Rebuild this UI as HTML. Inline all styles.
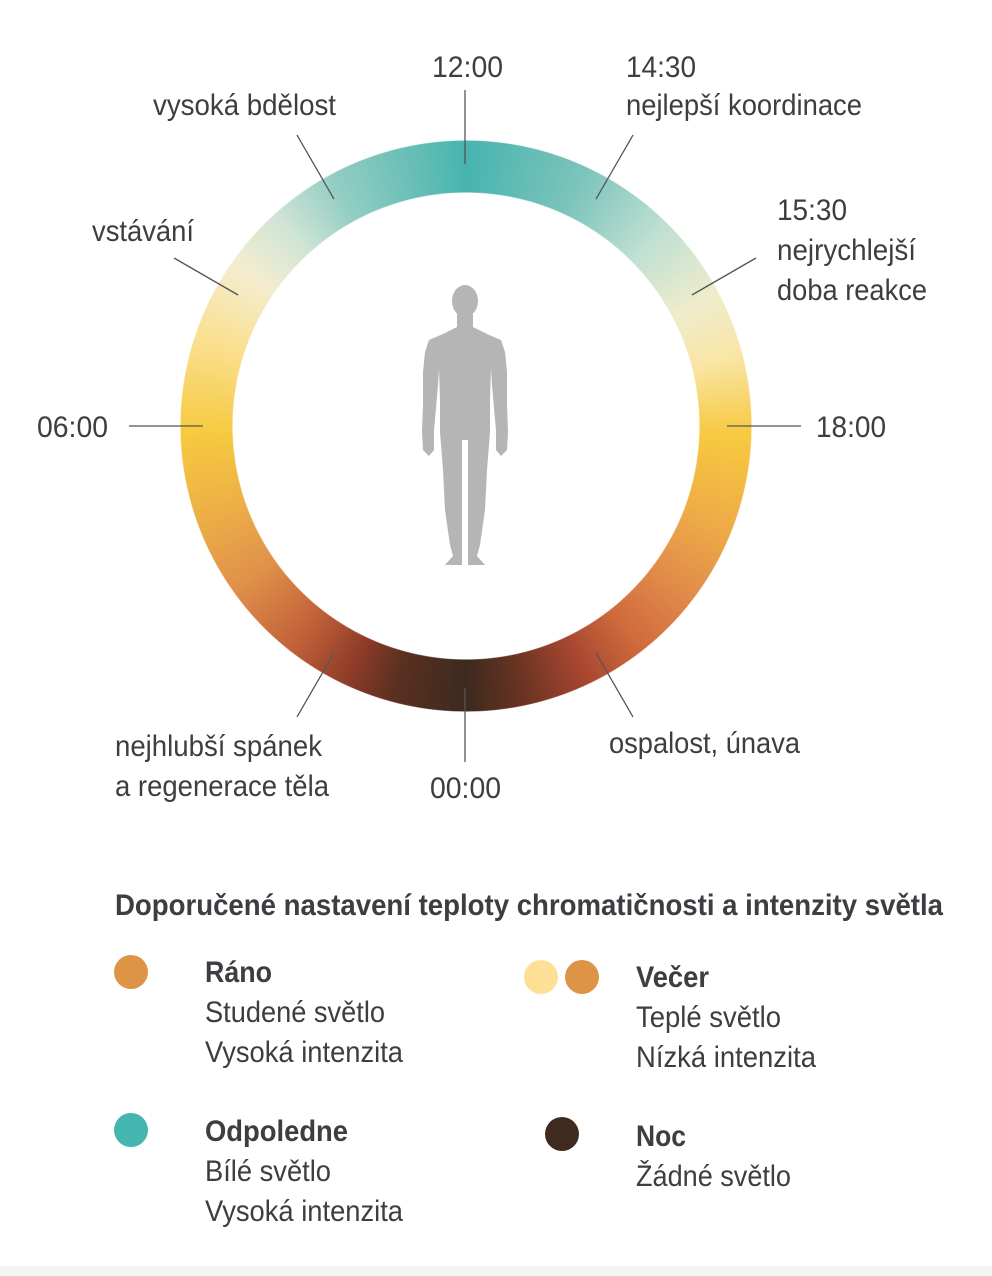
<!DOCTYPE html>
<html><head><meta charset="utf-8"><style>
html,body{margin:0;padding:0;background:#fff;width:992px;height:1276px;overflow:hidden;position:relative;font-family:"Liberation Sans",sans-serif}
#ring{position:absolute;left:180px;top:140px;width:572px;height:572px;border-radius:50%;
background:conic-gradient(from 0deg,#48b4af 0deg,#7cc4bb 25deg,#bfe0d2 45deg,#efeccc 62deg,#f9e6a8 75deg,#f7c940 92deg,#eeaa47 112deg,#e08a4a 128deg,#cf6a3c 142deg,#a64630 155deg,#6a3322 168deg,#3c2a1e 180deg,#5a3021 195deg,#8e3b28 205deg,#c1613a 218deg,#e0914a 235deg,#eeb046 252deg,#f6c93f 268deg,#fadf8f 288deg,#f4edcf 305deg,#cfe4d6 318deg,#92cdc2 332deg,#48b4af 360deg);
-webkit-mask:radial-gradient(circle,transparent 233px,#000 234px,#000 285px,transparent 286px);
mask:radial-gradient(circle,transparent 233px,#000 234px,#000 285px,transparent 286px)}
svg{position:absolute;left:0;top:0}
#bottom{position:absolute;left:0;top:1266px;width:992px;height:10px;background:#f4f4f4}
</style></head><body>
<div id="ring"></div>
<div id="bottom"></div>
<svg id="chart" width="992" height="1276" font-family="Liberation Sans, sans-serif" fill="#3d3d42">
<g id="ticks"></g>
<g id="figure" fill="#b5b5b5">
<ellipse cx="465" cy="301" rx="13" ry="16"/>
<path id="body" d=""/>
</g>
<g font-size="30">
<text x="432" y="77" textLength="71" lengthAdjust="spacingAndGlyphs">12:00</text>
<text x="153" y="115" textLength="183" lengthAdjust="spacingAndGlyphs">vysoká bdělost</text>
<text x="626" y="77" textLength="70" lengthAdjust="spacingAndGlyphs">14:30</text>
<text x="626" y="115" textLength="236" lengthAdjust="spacingAndGlyphs">nejlepší koordinace</text>
<text x="92" y="241" textLength="102" lengthAdjust="spacingAndGlyphs">vstávání</text>
<text x="777" y="220" textLength="70" lengthAdjust="spacingAndGlyphs">15:30</text>
<text x="777" y="260" textLength="139" lengthAdjust="spacingAndGlyphs">nejrychlejší</text>
<text x="777" y="300" textLength="150" lengthAdjust="spacingAndGlyphs">doba reakce</text>
<text x="37" y="437" textLength="71" lengthAdjust="spacingAndGlyphs">06:00</text>
<text x="816" y="437" textLength="70" lengthAdjust="spacingAndGlyphs">18:00</text>
<text x="115" y="756" textLength="207" lengthAdjust="spacingAndGlyphs">nejhlubší spánek</text>
<text x="115" y="796" textLength="214" lengthAdjust="spacingAndGlyphs">a regenerace těla</text>
<text x="430" y="798" textLength="71" lengthAdjust="spacingAndGlyphs">00:00</text>
<text x="609" y="753" textLength="191" lengthAdjust="spacingAndGlyphs">ospalost, únava</text>
</g>
<g>
<text x="115" y="915" font-size="30" font-weight="bold" textLength="828" lengthAdjust="spacingAndGlyphs">Doporučené nastavení teploty chromatičnosti a intenzity světla</text>
<circle cx="131" cy="972" r="17" fill="#de9447"/>
<g font-size="30">
<text x="205" y="982" font-weight="bold" textLength="67" lengthAdjust="spacingAndGlyphs">Ráno</text>
<text x="205" y="1022" textLength="180" lengthAdjust="spacingAndGlyphs">Studené světlo</text>
<text x="205" y="1062" textLength="198" lengthAdjust="spacingAndGlyphs">Vysoká intenzita</text></g>
<circle cx="541" cy="977" r="17" fill="#fde096"/>
<circle cx="582" cy="977" r="17" fill="#de9447"/>
<g font-size="30">
<text x="636" y="987" font-weight="bold" textLength="73" lengthAdjust="spacingAndGlyphs">Večer</text>
<text x="636" y="1027" textLength="145" lengthAdjust="spacingAndGlyphs">Teplé světlo</text>
<text x="636" y="1067" textLength="180" lengthAdjust="spacingAndGlyphs">Nízká intenzita</text></g>
<circle cx="131" cy="1130" r="17" fill="#45b5b0"/>
<g font-size="30">
<text x="205" y="1141" font-weight="bold" textLength="143" lengthAdjust="spacingAndGlyphs">Odpoledne</text>
<text x="205" y="1181" textLength="126" lengthAdjust="spacingAndGlyphs">Bílé světlo</text>
<text x="205" y="1221" textLength="198" lengthAdjust="spacingAndGlyphs">Vysoká intenzita</text></g>
<circle cx="562" cy="1134" r="17" fill="#3f2b1d"/>
<g font-size="30">
<text x="636" y="1146" font-weight="bold" textLength="50" lengthAdjust="spacingAndGlyphs">Noc</text>
<text x="636" y="1186" textLength="155" lengthAdjust="spacingAndGlyphs">Žádné světlo</text></g>
</g>
</svg>
<script>
const tickHours = [0, 2, 6, 8, 10, 12, 14, 16, 18, 22];
const cx = 465, cy = 426, r0 = 262, r1 = 336;
function hourAngle(h){ return ((h - 12) * 15) * Math.PI / 180; }
const g = document.getElementById('ticks');
tickHours.forEach(h => {
  const a = hourAngle(h);
  const l = document.createElementNS('http://www.w3.org/2000/svg','line');
  l.setAttribute('x1', cx + r0*Math.sin(a)); l.setAttribute('y1', cy - r0*Math.cos(a));
  l.setAttribute('x2', cx + r1*Math.sin(a)); l.setAttribute('y2', cy - r1*Math.cos(a));
  l.setAttribute('stroke', '#555'); l.setAttribute('stroke-width', '1.3');
  
  
  g.appendChild(l);
});
const half = [[8,314],[8,327],[22,334],[36,340],[40,352],[42,372],[42,405],[43,432],[42,450],[36,456],[31,450],[31,430],[29,408],[27,385],[26,368],[25,400],[25,432],[22,470],[20,510],[15,545],[12,556],[20,565],[3,565],[3,440],[0,440]];
const right = half.map(p => [465+p[0], p[1]]);
const left = half.slice().reverse().map(p => [465-p[0], p[1]]);
const pts = right.concat(left);
document.getElementById('body').setAttribute('d', 'M' + pts.map(p => p.join(',')).join('L') + 'Z');
</script>
</body></html>
